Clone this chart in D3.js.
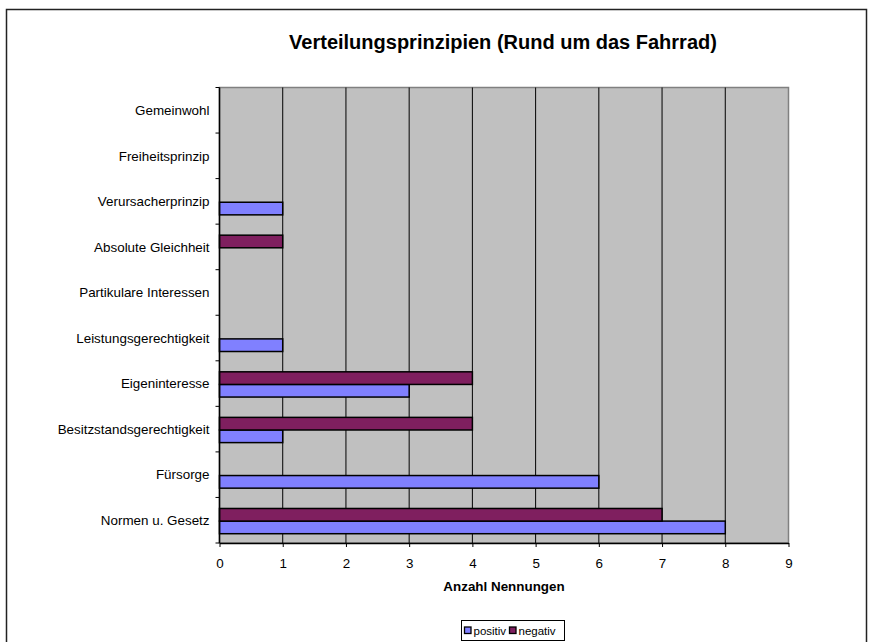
<!DOCTYPE html>
<html>
<head>
<meta charset="utf-8">
<script src="https://cdn.jsdelivr.net/npm/d3@7"></script>
<style>
  body { margin: 0; background: #fff; }
  text { font-family: "Liberation Sans", Arial, sans-serif; }
</style>
</head>
<body>
<script>
// categories top to bottom, as they appear in the chart
var categories = ["Gemeinwohl", "Freiheitsprinzip", "Verursacherprinzip", "Absolute Gleichheit",
  "Partikulare Interessen", "Leistungsgerechtigkeit", "Eigeninteresse",
  "Besitzstandsgerechtigkeit", "Fürsorge", "Normen u. Gesetz"];
var positiv = [0, 0, 1, 0, 0, 1, 3, 1, 6, 8];
var negativ = [0, 0, 0, 1, 0, 0, 4, 4, 0, 7];
var xTicks = [0, 1, 2, 3, 4, 5, 6, 7, 8, 9];

var series = [
  {name: "positiv", values: positiv, color: "#8080ff"},
  {name: "negativ", values: negativ, color: "#7f1f5f"}
];

var W = 871, H = 642;
var plot = {left: 219.5, top: 87.5, right: 788.5, bottom: 543};
var fs = 13.4;

var svg = d3.select("body").append("svg")
    .attr("width", W)
    .attr("height", H);

// outer chart border
svg.append("rect")
    .attr("x", 6.5).attr("y", 9.5)
    .attr("width", 860).attr("height", 700)
    .attr("fill", "#fff")
    .attr("stroke", "#222")
    .attr("stroke-width", 1.5);

var x = d3.scaleLinear().domain([0, 9]).range([plot.left, plot.right]);
var y = d3.scaleBand().domain(categories).range([plot.top, plot.bottom]);
var band = y.bandwidth();
var barH = band * 0.277;
var barTop = band * 0.242;

// plot background
svg.append("rect")
    .attr("x", plot.left).attr("y", plot.top)
    .attr("width", plot.right - plot.left).attr("height", plot.bottom - plot.top)
    .attr("fill", "#c0c0c0")
    .attr("stroke", "#808080")
    .attr("stroke-width", 1.5);

// vertical gridlines
svg.append("g")
    .selectAll("line")
    .data(xTicks.slice(1, -1))
    .enter().append("line")
    .attr("x1", function(d) { return x(d); })
    .attr("x2", function(d) { return x(d); })
    .attr("y1", plot.top)
    .attr("y2", plot.bottom)
    .attr("stroke", "#000")
    .attr("stroke-width", 1);

// bars: negativ above, positiv below inside each band
series.forEach(function(s, si) {
  svg.append("g")
      .selectAll("rect")
      .data(s.values.map(function(v, i) { return {cat: categories[i], v: v}; })
            .filter(function(d) { return d.v > 0; }))
      .enter().append("rect")
      .attr("x", x(0))
      .attr("y", function(d) { return y(d.cat) + barTop + (si == 0 ? barH : 0); })
      .attr("width", function(d) { return x(d.v) - x(0); })
      .attr("height", barH)
      .attr("fill", s.color)
      .attr("stroke", "#000")
      .attr("stroke-width", 1.5);
});

// x axis
var xAxis = svg.append("g")
    .attr("transform", "translate(0," + plot.bottom + ")")
    .call(d3.axisBottom(x).tickValues(xTicks).tickSizeInner(4).tickSizeOuter(0).tickPadding(11));
xAxis.select(".domain").attr("stroke", "#000").attr("stroke-width", 1.5);
xAxis.selectAll(".tick line").attr("stroke", "#000");
xAxis.selectAll("text").attr("font-size", fs).attr("fill", "#000")
    .style("font-family", "'Liberation Sans', Arial, sans-serif");

// y axis
var yTickPos = d3.range(categories.length + 1).map(function(i) { return plot.top + i * band; });
svg.append("line")
    .attr("x1", plot.left).attr("x2", plot.left)
    .attr("y1", plot.top).attr("y2", plot.bottom)
    .attr("stroke", "#000").attr("stroke-width", 1.5);
svg.append("g").selectAll("line")
    .data(yTickPos)
    .enter().append("line")
    .attr("x1", plot.left - 4).attr("x2", plot.left)
    .attr("y1", function(d) { return d; }).attr("y2", function(d) { return d; })
    .attr("stroke", "#000");
svg.append("g").selectAll("text")
    .data(categories)
    .enter().append("text")
    .attr("x", plot.left - 10)
    .attr("y", function(d) { return y(d) + band / 2; })
    .attr("dy", "0.35em")
    .attr("text-anchor", "end")
    .attr("font-size", fs)
    .text(function(d) { return d; });

// title
svg.append("text")
    .attr("x", 503).attr("y", 49)
    .attr("text-anchor", "middle")
    .attr("font-size", 20)
    .attr("font-weight", "bold")
    .text("Verteilungsprinzipien (Rund um das Fahrrad)");

// x axis title
svg.append("text")
    .attr("x", (plot.left + plot.right) / 2).attr("y", 591)
    .attr("text-anchor", "middle")
    .attr("font-size", fs)
    .attr("font-weight", "bold")
    .text("Anzahl Nennungen");

// legend
var legend = svg.append("g").attr("transform", "translate(461,620)");
legend.append("rect")
    .attr("x", 0.5).attr("y", 0.5)
    .attr("width", 103).attr("height", 20)
    .attr("fill", "#fff").attr("stroke", "#000");
var items = legend.selectAll("g")
    .data(series)
    .enter().append("g")
    .attr("transform", function(d, i) { return "translate(" + (3 + i * 45) + ",0)"; });
items.append("rect")
    .attr("x", 0.5).attr("y", 7)
    .attr("width", 6.5).attr("height", 6.5)
    .attr("fill", function(d) { return d.color; })
    .attr("stroke", "#000").attr("stroke-width", 1.3);
items.append("text")
    .attr("x", 9.5).attr("y", 11)
    .attr("dy", "0.35em")
    .attr("font-size", 11.5)
    .text(function(d) { return d.name; });
</script>
</body>
</html>
